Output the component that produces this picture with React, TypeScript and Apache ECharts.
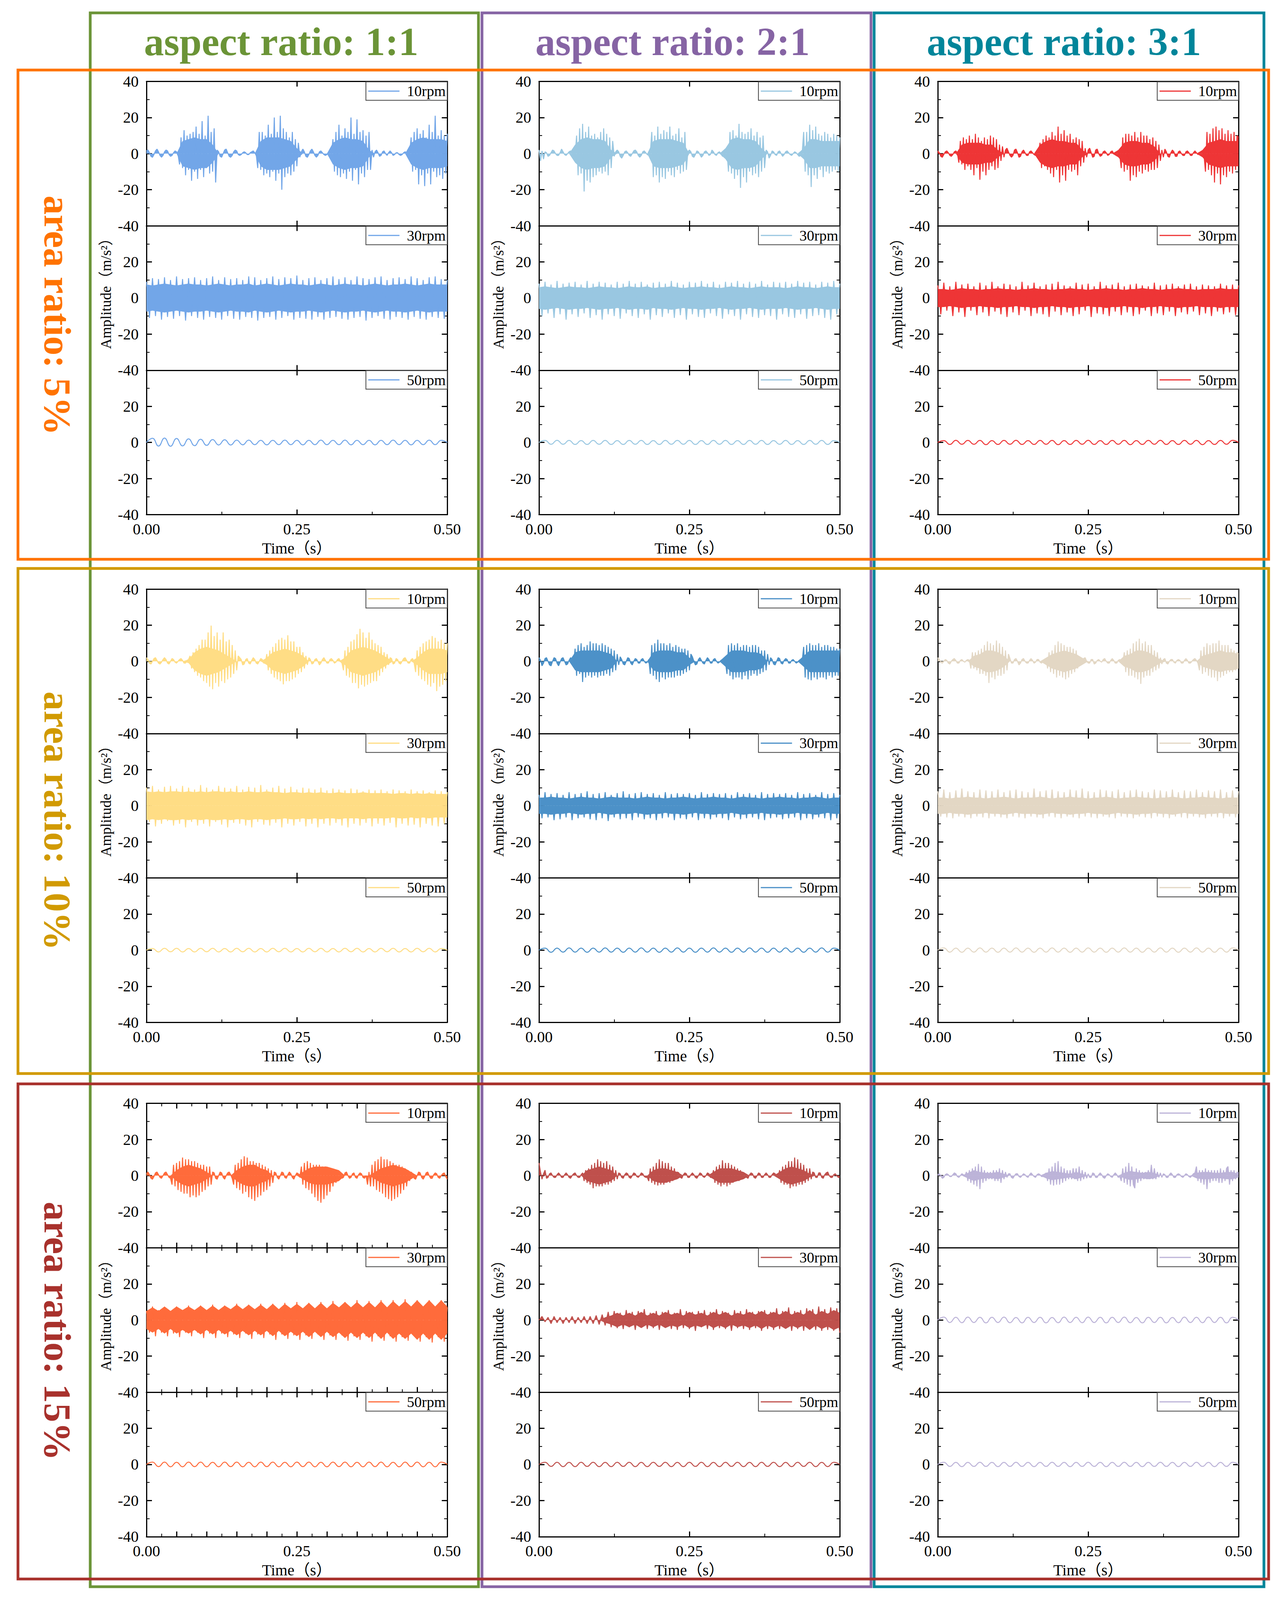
import React, { useEffect, useRef } from 'react';
import * as echarts from 'echarts';

// ---------- texts ----------
const COL_TITLES = ['aspect ratio: 1:1', 'aspect ratio: 2:1', 'aspect ratio: 3:1'];
const ROW_TITLES = ['area ratio: 5%', 'area ratio: 10%', 'area ratio: 15%'];
const RPM = ['10rpm', '30rpm', '50rpm'];
const Y_NAME = 'Amplitude（m/s²）';
const X_NAME = 'Time（s）';
const X_MIN = 0, X_MAX = 0.5, Y_MIN = -40, Y_MAX = 40, Y_STEP = 20;

// sampling steps of the arrays below (s)
const DT_10 = 0.0025; // 10rpm signal samples
const DT_30 = 0.005;  // 30rpm signal samples (alternating peaks)
const DT_C = 0.01;    // half-width of the dense core of a signal
const DT_W = 0.01;    // alternating peaks of smooth waves

// ---------- row 1 (area ratio 5%) ----------
const P11_10_S = [
  1.5, 2, 0.5, -1.5, -2, -0.5, 1.5, 2.5, 1, -1,
  -2, -1, 1, 2, 1.5, -0.5, -1.5, -1, 0.5, 1.5,
  1, -0.5, -6, 9, -8, 13, -12, 10, -9, 11,
  -15, 12, -10, 15, -14, 11, -9, 18, -13, 10,
  -8, 21, -11, 12, -10, 14, -16, 2, 1, -1.5,
  -2, 0, 2, 2.5, 0.5, -1.5, -2, -1, 1, 2,
  1.5, -0.5, -1, -0.5, 0.5, 1, 0.5, -0.5, -0.5, 0.5,
  1, 1.5, 0.5, -0.5, -8, 12, -9, 12, -12, 10,
  -11, 16, -13, 11, -10, 20, -15, 12, -11, 21,
  -20, 14, -13, 12, -11, 9, -12, 12, -10, 8,
  -7, 6, -2, 1, 2.5, 1, -1.5, -2, -0.5, 1.5,
  2.5, 1, -1, -2, -1, 1, 1.5, 0.5, -0.5, -1,
  -0.5, 0.5, 1, 0, 8, -10, 12, -12, 16, -13,
  10, -11, 14, -14, 12, -10, 20, -15, 11, -9,
  19, -17, 12, -11, 13, -13, 10, -9, 12, -9,
  2, -2, 1, 2, 0.5, -1.5, -1, 1, 1.5, 0,
  -1, 0.5, 1.5, 0.5, -1, -0.5, 0.5, 0.5, -0.5, -1,
  -0.5, 0.5, 1, 0.5, -0.5, 0, 9, -10, 12, -9,
  14, -17, 11, -12, 13, -18, 9, -11, 16, -17,
  12, -10, 21, -13, 10, -12, 13, -14, 10, -11,
  11];
const P11_10_C = [
  0, 0, 0, 0, 0, 0, 7, 8, 9, 8,
  8, 5, 0, 0, 0, 0, 0, 0, 0, 7,
  9, 9, 9, 8, 7, 3, 0, 0, 0, 0,
  0, 6, 8, 9, 8, 8, 7, 2, 0, 0,
  0, 0, 0, 0, 6, 8, 9, 8, 8, 8,
  7];
const P11_30_S = [
  9, -11, 11, -10, 10.5, -12, 11.5, -10.5, 10, -11.5,
  12, -10, 10.5, -12.5, 11, -10, 11.5, -11, 10, -12,
  11, -10.5, 12, -11, 10, -12, 11.5, -10, 10.5, -11.5,
  11, -12, 10, -10.5, 12, -11, 11.5, -12.5, 10, -11,
  11, -10.5, 12, -12, 10.5, -11, 11.5, -10, 11, -12,
  12.5, -11, 10, -11.5, 11, -12, 11.5, -10.5, 10, -12,
  11, -11, 12, -10.5, 10.5, -11.5, 11.5, -12, 10, -11,
  12, -10.5, 11, -12.5, 10.5, -11, 11.5, -10, 12, -11.5,
  10, -12, 11, -10.5, 11.5, -11, 10.5, -12, 12, -10.5,
  11, -11.5, 10, -12, 11.5, -10.5, 12, -11, 10.5, -11.5,
  10];
const P11_30_C = [
  7.5, 7, 7.5, 8, 7.5, 7, 7.5, 8, 7.5, 7.5,
  7, 7.5, 8, 7.5, 7, 7.5, 7.5, 8, 7, 7.5,
  8, 7.5, 7, 7.5, 8, 7.5, 7.5, 7, 7.5, 8,
  7.5, 7, 7.5, 8, 7.5, 7.5, 7, 7.5, 8, 7.5,
  7, 7.5, 7.5, 8, 7.5, 7, 7.5, 8, 7.5, 7.5,
  7.5];
const P11_50_W = [
  0, 2.3, -2, 2.4, -2.1, 2.2, -1.9, 2, -1.8, 1.8,
  -1.6, 1.6, -1.4, 1.5, -1.4, 1.3, -1.3, 1.3, -1.2, 1.2,
  -1.3, 1.2, -1.2, 1.3, -1.2, 1.2, -1.3, 1.2, -1.2, 1.3,
  -1.2, 1.2, -1.2, 1.3, -1.3, 1.2, -1.2, 1.2, -1.3, 1.2,
  -1.2, 1.3, -1.2, 1.2, -1.3, 1.2, -1.2, 1.3, -1.2, 1.2,
  0];

const P12_10_S = [
  2, -4, 1.5, -3, 1, 0.5, -1.5, -1, 0.5, 2,
  1.5, 0, -1, -1, 0.5, 2.5, 1, -0.5, -1, 0,
  1, 1.5, 0.5, -0.5, -1, 10, -12, 14, -11, 16.5,
  -21, 12, -15, 15, -16, 10, -13, 11, -12, 9,
  -10, 12, -11, 14, -10, 11, -12, 9, -8, 7,
  -1.5, 1, 2, 1, -1.5, -2.5, -1, 1, 1.5, 0.5,
  -1, -1.5, 0, 1.5, 2, 1, -1, -2, -1, 1,
  1.5, 0.5, -0.5, -1, 0.5, 12, -13, 10, -12, 15,
  -16, 11, -13, 13, -14, 12, -10, 15, -12, 10,
  -13, 11, -9, 14, -11, 9, -10, 12, -9, 1,
  2, 1, -1.5, -2, -0.5, 1.5, 1, -0.5, -2, -1,
  1, 1.5, 0.5, -1, -0.5, 2, 1, -0.5, -1, 0.5,
  1, 0, -1.5, -1, 0.5, 1, -10, 12, -11, 13,
  -14, 10, -12, 16.5, -19, 12, -13, 11, -16, 12,
  -10, 14, -12, 10, -11, 12, -13, 9, -10, 10,
  -8, 2, 1, -2.5, -1, 1.5, 1, -0.5, -1, 1,
  1.5, 0, -1.5, -0.5, 1, 1.5, 0.5, -0.5, -1, 0,
  1, 0.5, -0.5, -1.5, -1, 0.5, 12, -10, 12, -12,
  16, -18.5, 13, -12, 15, -14, 11, -9, 10, -13,
  12, -10, 11, -11, 9, -10, 11, -9, 10, -10,
  9];
const P12_10_C = [
  0, 0, 0, 0, 0, 0, 5, 8, 9, 8,
  8, 7, 2, 0, 0, 0, 0, 0, 0, 7,
  8, 8, 8, 7, 6, 0, 0, 0, 0, 0,
  0, 3, 8, 9, 8, 8, 7, 3, 0, 0,
  0, 0, 0, 0, 3, 8, 8, 7, 7, 7,
  7];
const P12_30_S = [
  8, -10, 9, -8.5, 7.5, -11, 9.5, -9, 8, -12,
  8.5, -9, 9, -10.5, 7.5, -8.5, 9.5, -11, 8, -9.5,
  9, -12, 8.5, -9, 7.5, -10, 9, -11.5, 8, -8.5,
  9.5, -10, 8, -11, 9, -9, 7.5, -12, 8.5, -9.5,
  9, -10.5, 8, -8.5, 9.5, -11, 8.5, -9.5, 7.5, -12,
  9, -9, 8.5, -10.5, 9.5, -11, 8, -8.5, 9, -10,
  7.5, -11.5, 9, -9, 8.5, -10, 9.5, -12, 8, -9,
  9, -10.5, 8, -11, 9.5, -9.5, 7.5, -10, 9, -12,
  8.5, -9, 9, -10.5, 8, -11, 9.5, -9, 8.5, -11.5,
  9, -10, 7.5, -9.5, 9, -11, 8.5, -12, 9.5, -9,
  8];
const P12_30_C = [
  6, 6.5, 6, 5.5, 6, 6.5, 6, 6, 5.5, 6,
  6.5, 6, 6, 5.5, 6, 6.5, 6, 6, 6.5, 5.5,
  6, 6, 6.5, 6, 5.5, 6, 6, 6.5, 6, 6,
  5.5, 6, 6.5, 6, 6, 5.5, 6, 6.5, 6, 6,
  6, 5.5, 6, 6.5, 6, 6, 5.5, 6, 6.5, 6,
  6];
const P12_50_W = [
  0, 1.1, -1, 1.2, -1, 1.1, -1.1, 1, -1.1, 1.1,
  -1, 1.1, -1.1, 1, -1.1, 1.1, -1, 1.1, -1.1, 1,
  -1.1, 1.1, -1, 1.1, -1, 1.1, -1.1, 1, -1.1, 1.1,
  -1, 1.1, -1.1, 1, -1.1, 1.1, -1, 1.1, -1.1, 1,
  -1, 1.1, -1.1, 1, -1.1, 1.1, -1, 1.1, -1.1, 1,
  0];

const P13_10_S = [
  1.5, 0.5, -1.5, -2, -0.5, 1, 1.5, 0.5, -1, -1.5,
  -0.5, 1, 1.5, 0.5, -5, 7, -6, 9, -9, 8,
  -7, 10, -9, 8, -12, 11, -8, 9, -14.5, 7,
  -10, 9, -12, 8, -9, 10, -7, 9, -9, 8,
  -8, 5, -4, 4, -2, 2, 3, 1, -1, -2,
  -1, 2, 2.5, 0.5, -2, -1.5, 1, 2, 0.5, -1,
  -1, 1, 1.5, 0.5, -0.5, -1, 0.5, 1, 6, -8,
  8, -7, 10, -9, 9, -11, 12, -13, 10, -9,
  15, -16, 11, -12, 13, -15, 10, -9, 11, -10,
  8, -9, 9, -12, 8, -7, 7, -5, 3, -2,
  2, 3, 0.5, -2, -1.5, 2, 2.5, 0, -1.5, -1,
  1, 1.5, 0.5, -1, -0.5, 1, 1.5, 0, -0.5, 1,
  0.5, -1, -8, 9, -10, 11, -9, 11, -15, 10,
  -12, 12, -13, 9, -10, 12, -11, 10, -9, 10,
  -10, 8, -9, 9, -9, 7, -8, 5, -4, 2,
  -2, 2.5, 1, -1.5, -2, 0.5, 2, 1, -1.5, -1.5,
  1, 1.5, 0, -1, -1, 1, 1.5, 0.5, -1, -1,
  0.5, 1.5, 0.5, -0.5, 0, 1, 0.5, -0.5, -10, 12,
  -9, 11, -12, 14, -16, 15, -11, 13, -17, 14,
  -12, 11, -13, 13, -10, 11, -11, 12, -9, 10,
  9];
const P13_10_C = [
  0, 0, 0, 0, 5, 6, 6, 6, 5, 5,
  2, 0, 0, 0, 0, 0, 0, 5, 7, 8,
  7, 7, 6, 6, 2, 0, 0, 0, 0, 0,
  2, 6, 7, 7, 6, 6, 4, 0, 0, 0,
  0, 0, 0, 0, 2, 6, 7, 8, 7, 7,
  7];
const P13_30_S = [
  7, -9, 8.5, -7, 6.5, -10, 9, -8, 7.5, -10.5,
  8, -7, 6.5, -9.5, 8.5, -8, 7, -10, 9, -7.5,
  6.5, -9, 8, -10.5, 7.5, -8, 6.5, -9.5, 9, -7,
  7, -10, 8.5, -8.5, 6.5, -9, 7.5, -10.5, 8, -7.5,
  9, -9.5, 7, -8, 6.5, -10, 8.5, -9, 7.5, -7,
  8, -10.5, 6.5, -8.5, 9, -9, 7, -10, 7.5, -7.5,
  8.5, -9.5, 6.5, -8, 7.5, -10, 8, -9, 7, -7,
  6.5, -10, 8.5, -8.5, 7, -9.5, 7.5, -7.5, 8, -10,
  6.5, -8, 7.5, -9, 8, -7.5, 6.5, -9.5, 7.5, -8.5,
  7, -10, 6.5, -7.5, 8, -9, 7, -8, 7.5, -9.5,
  7];
const P13_30_C = [
  5, 5, 4.5, 5, 5.5, 5, 5, 4.5, 5, 5,
  5.5, 5, 5, 4.5, 5, 5, 5.5, 5, 5, 4.5,
  5, 5, 5.5, 5, 5, 4.5, 5, 5, 5.5, 5,
  5, 4.5, 5, 5, 5.5, 5, 5, 4.5, 5, 5,
  5.5, 5, 5, 4.5, 5, 5, 5, 5.5, 5, 5,
  5];
const P13_50_W = [
  0, 1, -1.1, 1.2, -1, 1.1, -1, 1.1, -1.2, 1,
  -1.1, 1.1, -1, 1.2, -1.1, 1, -1.1, 1.1, -1, 1.1,
  -1.2, 1, -1.1, 1.1, -1, 1.2, -1.1, 1, -1.1, 1.1,
  -1, 1.1, -1.2, 1, -1.1, 1.1, -1, 1.2, -1.1, 1,
  -1.1, 1.1, -1, 1.1, -1.2, 1, -1.1, 1.1, -1, 1.2,
  0];

// ---------- row 2 (area ratio 10%) ----------
const P21_10_S = [
  2, 1, -1, -1.5, 0, 1.5, 2, 0.5, -1, -1.5,
  -0.5, 1, 2, 1, -1, -1.5, 0, 1.5, 1, -0.5,
  -1, 0, 1, 1.5, 0.5, -1, -1, 0.5, 1, 3,
  -4, 5, -6, 7, -8, 9, -9, 12, -11, 12,
  -12, 16, -14, 19.8, -15.5, 14, -12, 16, -14, 12,
  -11, 16, -12, 11, -10, 12, -9, 9, -7, 6,
  -5, 3, 2, 1, -2, -1.5, 1, 1.5, -1, -1.5,
  0.5, 2, 1, -1, -1.5, 0, 1.5, 1, -1, -1,
  4, -5, 6, -7, 8, -9, 10, -10, 12, -11,
  13, -12.8, 12, -11, 14.4, -11, 11, -10, 11, -9,
  8, -7, 8, -6, 5, -4, 3, -2, 2, 1,
  -1.5, -1, 1, 1.5, 0, -2, -1, 1, 2, 0.5,
  -1, -1, 1, 1.5, 0.5, -1, -0.5, 1, 1.5, 0,
  -1, -5, 6, -8, 8, -9, 11, -12, 12, -12,
  15, -15, 18, -13, 16, -14, 13, -13, 16, -12,
  12, -11, 10, -11, 9, -8, 8, -6, 5, -4,
  4, -2, 2, 1.5, -1.5, -1, 1.5, 1, -1, -1.5,
  0, 1.5, 2, 0.5, -1, -1, 1, 1.5, -1, -6,
  6, -8, 8, -10, 10, -11, 11, -13, 12, -14,
  14, -12, 13, -16.5, 11, -14, 12, -13, 10, -11,
  10];
const P21_10_C = [
  0, 0, 0, 0, 0, 0, 0, 1, 5, 7,
  8, 7, 6, 4, 2, 0, 0, 0, 0, 0,
  2, 5, 6, 7, 6, 5, 3, 0, 0, 0,
  0, 0, 0, 2, 6, 7, 8, 7, 6, 4,
  2, 0, 0, 0, 0, 2, 5, 7, 7, 7,
  6];
const P21_30_S = [
  10, -9, 11, -11.5, 9, -10, 10.5, -8.5, 11, -11,
  9.5, -10, 11, -12, 10, -9, 9, -11, 11.5, -10,
  10, -11.5, 9, -9, 11, -10.5, 10, -12, 9.5, -9.5,
  11, -10, 9, -11, 10.5, -12, 10, -9, 11.5, -10.5,
  9, -11, 10, -9.5, 11, -12, 9.5, -10, 10.5, -11,
  9, -9, 10, -11.5, 9.5, -10, 9, -12, 10, -10,
  8.5, -11, 9.5, -9.5, 9, -11, 8.5, -12, 9.5, -10,
  9, -11, 8, -9.5, 9, -11.5, 8.5, -10, 9, -11,
  8, -9.5, 9, -12, 8.5, -10, 8, -11, 9, -10.5,
  8, -12, 8.5, -10, 7.5, -11, 8.5, -11.5, 8, -10,
  7.5];
const P21_30_C = [
  8, 7.5, 8, 7.5, 8, 8, 7.5, 8, 7.5, 8,
  7.5, 8, 8, 7.5, 8, 7.5, 7.5, 8, 7.5, 7.5,
  8, 7.5, 7.5, 7, 7.5, 7.5, 7, 7.5, 7, 7.5,
  7, 7, 7.5, 7, 7, 7, 7.5, 7, 7, 7,
  7, 6.5, 7, 7, 6.5, 7, 6.5, 7, 6.5, 6.5,
  6.5];
const P21_50_W = [
  0, 0.9, -1, 1, -0.9, 1, -1, 0.9, -1, 1,
  -0.9, 1, -1, 0.9, -1, 1, -0.9, 1, -1, 0.9,
  -1, 1, -0.9, 1, -1, 0.9, -1, 1, -0.9, 1,
  -1, 0.9, -1, 1, -0.9, 1, -1, 0.9, -1, 1,
  -0.9, 1, -1, 0.9, -1, 1, -0.9, 1, -1, 0.9,
  0];

const P22_10_S = [
  2, 0.5, -2.5, -1, 1.5, 2, 0, -2, -2.5, 0,
  2, 1.5, -1, -2.5, -0.5, 1.5, 2, 0, -2, -1.5,
  0.5, 2, 1, -1, 7, -8, 9, -7, 10, -11.5,
  8, -9, 9, -8, 11, -9, 10, -8, 10, -9,
  9, -8, 10, -8, 9, -7, 8, -8, 7, -6,
  6, -5, 4, -2, 2.5, 1, -1.5, -2, 0, 2,
  1.5, -1, -2, 0, 1.5, 1, -1, -1, 1, 1.5,
  0, -1, -0.5, 1, -7, 9, -8, 10, -10, 12,
  -11.5, 10, -9, 10, -10, 9, -9, 10, -9, 8,
  -9, 9, -8, 8, -8, 7, -7, 7, -6, 6,
  -5, 4, 2.5, 0, -2, -1.5, 1, 2, 0.5, -1,
  -1.5, 0.5, 2, 1, -1, -1, 1, 1.5, 0, -1,
  -0.5, 0.5, 1, 0, -0.5, -7, 9, -8, 10, -10,
  9, -9, 10, -9, 8, -10, 9, -8, 9, -10,
  8, -8, 9, -7, 9, -8, 8, -7, 6, -6,
  6, -5, 4, -2, 2, 1, -1.5, -2, 0, 2,
  1.5, -1, -1.5, 0.5, 1.5, 1, -1, -1, 0.5, 1,
  0, -1, -0.5, 0.5, 1, 0, 8, -9, 9, -10,
  10, -10.5, 9, -9, 9, -10, 10, -9, 8, -9,
  9, -10, 9, -8, 8, -9, 8, -8, 7, -8,
  7];
const P22_10_C = [
  0, 0, 0, 0, 0, 0, 5, 6, 6, 6,
  6, 5, 4, 0, 0, 0, 0, 0, 0, 5,
  6, 6, 6, 5, 5, 2, 0, 0, 0, 0,
  0, 3, 6, 6, 6, 5, 5, 4, 0, 0,
  0, 0, 0, 0, 3, 6, 6, 6, 6, 6,
  6];
const P22_30_S = [
  6, -7, 7.5, -6.5, 6.5, -8, 7, -7.5, 6, -6.5,
  7.5, -8, 6.5, -7, 7, -6.5, 8, -7.5, 6.5, -8,
  7, -7, 7.5, -8.5, 6, -6.5, 7, -7.5, 8, -7,
  6.5, -8, 7, -6.5, 7.5, -7.5, 6.5, -7, 7, -8,
  6, -7, 7.5, -6.5, 6.5, -8, 7, -7, 6.5, -7.5,
  7, -6.5, 6, -8, 7.5, -7, 6.5, -7.5, 7, -6.5,
  6.5, -7, 7, -8, 6, -6.5, 7.5, -7.5, 6.5, -7,
  7, -6.5, 6, -7.5, 7.5, -8, 6.5, -7, 7, -6.5,
  6.5, -7.5, 7, -7, 6, -6.5, 7.5, -8, 6.5, -7,
  7, -7.5, 6, -6.5, 7.5, -7, 6.5, -8, 7, -7,
  6];
const P22_30_C = [
  4.5, 4.5, 5, 4.5, 4.5, 4, 4.5, 5, 4.5, 4.5,
  4, 4.5, 5, 4.5, 4.5, 4.5, 4, 4.5, 5, 4.5,
  4.5, 4, 4.5, 4.5, 5, 4.5, 4, 4.5, 4.5, 5,
  4.5, 4.5, 4, 4.5, 5, 4.5, 4.5, 4, 4.5, 4.5,
  5, 4.5, 4.5, 4, 4.5, 4.5, 5, 4.5, 4, 4.5,
  4.5];
const P22_50_W = [
  0, 1.1, -1.2, 1.1, -1.1, 1.2, -1.1, 1.1, -1.2, 1.1,
  -1.1, 1.2, -1.1, 1.1, -1.2, 1.1, -1.1, 1.2, -1.1, 1.1,
  -1.2, 1.1, -1.1, 1.2, -1.1, 1.1, -1.2, 1.1, -1.1, 1.2,
  -1.1, 1.1, -1.2, 1.1, -1.1, 1.2, -1.1, 1.1, -1.2, 1.1,
  -1.1, 1.2, -1.1, 1.1, -1.2, 1.1, -1.1, 1.2, -1.1, 1.1,
  0];

const P23_10_S = [
  2, 1, -0.5, -1, 0, 1, 0.5, -1, -1.5, 0,
  1, 1.5, 0.5, -1, -1, 0.5, 1, 0, -0.5, 0.5,
  1, 0.5, -4, 5, -4, 5, -5, 6, -7, 7,
  -7, 9, -8, 11, -12, 10, -9, 9, -10, 11.5,
  -8, 10, -8, 8, -7, 6, -5, 4, 1.5, -1,
  -1, 1, 1.5, 0, -2, -1, 1, 1.5, 0, -1,
  -1, 0.5, 1.5, 0.5, -1, -0.5, 1, 1, -0.5, -1,
  0, 1, 1.5, -4, 5, -6, 6, -7, 9, -9,
  11, -8, 10, -9, 9, -10, 8, -9, 8, -7,
  7, -6, 6, -4, 1.5, -1.5, -1, 1.5, 2, 0,
  -1, -1, 1, 1, -1.5, -1, 0.5, 1, 0, -0.5,
  1, 1.5, 0, -1, -1, 0.5, 1.5, 0.5, -1, -1,
  0.5, 1, 0, -1.5, 5, -6, 6, -8, 7, -8,
  10, -9, 11, -10, 12.5, -12.5, 10, -9, 11, -8,
  9, -8, 9, -6, 6, -5, 5, -4, 2, -1.5,
  1, 1.5, -1, -1.5, 0, 1, 1, -0.5, -1, 0.5,
  1, 0.5, -1, -1, 0.5, 1.5, 0.5, -1, -1, 0,
  1, 1.5, 0.5, -1, -5, 6, -7, 8, -6, 10,
  -8, 9, -9, 10, -9, 10, -11, 11.5, -9, 9,
  -8, 9, -7, 9, -6, 7, -6, 6, -5, 5,
  4];
const P23_10_C = [
  0, 0, 0, 0, 0, 0, 3, 4, 6, 6,
  5, 3, 0, 0, 0, 0, 0, 0, 2, 4,
  5, 6, 5, 4, 2, 0, 0, 0, 0, 0,
  0, 3, 4, 6, 6, 5, 3, 1, 0, 0,
  0, 0, 0, 0, 3, 4, 5, 6, 5, 5,
  4];
const P23_30_S = [
  8, -6, 9, -6.5, 7.5, -7, 8.5, -6, 9.5, -6.5,
  8, -7, 7.5, -6, 9, -6.5, 8.5, -7, 8, -6,
  9, -6.5, 7.5, -7, 8.5, -6, 9, -6.5, 8, -7,
  7.5, -6, 9.5, -6.5, 8, -7, 8.5, -6, 9, -6.5,
  8, -7, 7.5, -6, 9, -6.5, 8.5, -7, 9.5, -6,
  8, -6.5, 7.5, -7, 9, -6, 8.5, -6.5, 8, -7,
  9, -6, 7.5, -6.5, 8.5, -7, 9, -6, 8, -6.5,
  7.5, -7, 9, -6, 8.5, -6.5, 8, -7, 9, -6,
  7.5, -6.5, 8.5, -7, 8, -6, 9, -6.5, 7.5, -7,
  8.5, -6, 8, -6.5, 9, -7, 7.5, -6, 8.5, -6.5,
  8];
const P23_30_C = [
  4.5, 4.5, 4, 4.5, 4.5, 5, 4.5, 4.5, 4, 4.5,
  4.5, 5, 4.5, 4, 4.5, 4.5, 4.5, 5, 4.5, 4,
  4.5, 4.5, 5, 4.5, 4.5, 4, 4.5, 4.5, 5, 4.5,
  4, 4.5, 4.5, 5, 4.5, 4.5, 4, 4.5, 4.5, 5,
  4.5, 4, 4.5, 4.5, 5, 4.5, 4.5, 4, 4.5, 4.5,
  4.5];
const P23_50_W = [
  0, 1.2, -1.1, 1.1, -1.2, 1.1, -1.1, 1.2, -1.1, 1.1,
  -1.2, 1.1, -1.1, 1.2, -1.1, 1.1, -1.2, 1.1, -1.1, 1.2,
  -1.1, 1.1, -1.2, 1.1, -1.1, 1.2, -1.1, 1.1, -1.2, 1.1,
  -1.1, 1.2, -1.1, 1.1, -1.2, 1.1, -1.1, 1.2, -1.1, 1.1,
  -1.2, 1.1, -1.1, 1.2, -1.1, 1.1, -1.2, 1.1, -1.1, 1.2,
  0];

// ---------- row 3 (area ratio 15%) ----------
const P31_10_S = [
  1, 2, 0.5, -1.5, -2, -0.5, 1.5, 2, 0.5, -1,
  -1.5, 0, 1.5, 2, 0.5, -1, -1.5, -5, 6, -6,
  7, -8, 8, -9, 10, -10, 9, -10, 9, -12,
  8, -11, 8, -12, 7, -11, 6, -9, 6, -8,
  5, -6, 5, -5, 2, 1.5, -1.5, -2, 0, 2,
  1.5, -1, -2, 0, 1.5, 2, 0.5, -1.5, -5, 6,
  -7, 7, -8, 9, -10, 10.7, -9, 10, -12, 8,
  -13, 8, -14, 7, -12, 7, -11, 6, -9, 5,
  -8, 4, -6, 3, -4, 2, 1.5, -1, -2, 0,
  2, 1.5, -1, -1.5, 0.5, 2, 1, -1, -2, 0,
  1.5, 1, -1, 5, -5, 7, -7, 8, -8, 7,
  -10, 6, -12, 6, -14, 6, -15, 5, -13, 5,
  -11, 4, -9, 3, -6, 2, -4, 1.5, 2, 0,
  -1.5, -1, 1.5, 2, 0, -1.5, -1, 1, 1.5, -1,
  -1.5, 0.5, 1.5, 1, -1, -1.5, 0, -5, 2, -6,
  6, -6, 8, -8, 9, -9, 10.5, -10, 9, -12,
  9, -13, 8, -14, 7, -13, 6, -12, 6, -10,
  5, -8, 4, -6, 3, -3, 2, 1, -1.5, -2,
  0, 2, 1.5, -1, -2, -0.5, 1.5, 2, 0, -1.5,
  -1.5, 0.5, 1.5, 1, -1, -1.5, 0, 1, 1.5, -0.5,
  -2];
const P31_10_C = [
  0, 0, 0, 0, 0, 3, 5, 6, 5, 4,
  2, 0, 0, 0, 0, 3, 5, 6, 6, 4,
  3, 0, 0, 0, 0, 0, 2, 4, 5, 5,
  5, 4, 3, 0, 0, 0, 0, 0, 2, 4,
  5, 6, 5, 4, 2, 0, 0, 0, 0, 0,
  0];
const P31_30_S = [
  5, -7, 7.5, -9, 5.5, -7, 7, -9, 5, -7.5,
  7.5, -9.5, 5, -7, 8, -9, 5.5, -7, 8, -10,
  5, -7.5, 8.5, -10, 5.5, -7.5, 8, -9.5, 5, -8,
  9, -10, 5.5, -7.5, 8.5, -10.5, 5.5, -8, 9, -10,
  6, -8, 9, -11, 6, -8, 9.5, -10.5, 6, -8.5,
  10, -11, 6, -8.5, 9.5, -10.5, 6.5, -8, 10, -11,
  6.5, -8.5, 10.5, -11, 6.5, -8.5, 10, -11.5, 7, -9,
  11, -11, 7, -9, 10.5, -12, 7, -9, 11, -11.5,
  7, -9, 11, -12, 7, -9.5, 11.5, -11.5, 7, -9,
  11, -12, 7.5, -9.5, 11, -12.5, 7, -9.5, 11, -12,
  7];
const P31_30_C = [
  5, 7, 5, 7.5, 5, 7.5, 5.5, 7.5, 5.5, 8,
  5.5, 8, 5.5, 8, 6, 8.5, 6, 8.5, 6, 8.5,
  6, 9, 6, 9, 6.5, 9, 6.5, 9.5, 6.5, 9.5,
  6.5, 9.5, 7, 10, 7, 10, 7, 10, 7, 10.5,
  7, 10.5, 7.5, 10.5, 7.5, 11, 7.5, 11, 7.5, 11,
  7.5];
const P31_50_W = [
  0, 1.3, -1.2, 1.3, -1.3, 1.2, -1.3, 1.3, -1.2, 1.3,
  -1.3, 1.2, -1.3, 1.3, -1.2, 1.3, -1.3, 1.2, -1.3, 1.3,
  -1.2, 1.3, -1.3, 1.2, -1.3, 1.3, -1.2, 1.3, -1.3, 1.2,
  -1.3, 1.3, -1.2, 1.3, -1.3, 1.2, -1.3, 1.3, -1.2, 1.3,
  -1.3, 1.2, -1.3, 1.3, -1.2, 1.3, -1.3, 1.2, -1.3, 1.3,
  0];

const P32_10_S = [
  7, 2, -2, 1, 3, -1.5, -1, 1, 1.5, 0,
  -1, -1, 0.5, 1.5, 0.5, -1, -1, 0.5, 1.5, 0.5,
  -1, -1.5, 0, 1, 1.5, 0, -1, -1, 0.5, 1.5,
  -3, 3, -4, 4, -5, 6, -7, 7, -6, 9,
  -6, 8, -6, 7, -5, 8, -5, 6, -4, 5,
  -3, 3, -2, 1.5, 1, -1, -1.5, 0.5, 1.5, 1,
  -1, -1.5, 0, 1.5, 1, -0.5, -1, 0, 1.5, 1,
  -0.5, -1, -1, -3, 4, -4, 5, -5, 7, -5.5,
  9, -5, 8, -5, 7, -4, 7, -4, 5, -3,
  4, -2, 2, 1.5, -1, -1.5, 0.5, 1.5, 1, -1,
  -1, 0.5, 1.5, 0.5, -1, -1.5, 0, 1.5, 1, -0.5,
  -1, 0, 1.5, 1, -1, -1, 3, -4, 5, -5,
  6, -6, 8.5, -5, 7, -6, 7, -5, 6, -4,
  5, -3, 4, -3, 3, -2, 1.5, 1, -1, -1.5,
  0.5, 1.5, 1, -1, -1.5, 0, 1.5, 1, -1, -1,
  0.5, 1.5, 0.5, -1, -1, 0.5, 1.5, 1, -0.5, -1,
  3, -4, 5, -5, 6, -5, 8, -7, 8, -6,
  10, -6, 9, -5, 7, -5, 6, -4, 4, -3,
  4, -2, 2, 1.5, -1, -1, 1.5, 1.5, -1, -1.5,
  0.5, 1.5, 2, 0, -1, -1, 0.5, 1, 0, -1,
  -1];
const P32_10_C = [
  0, 0, 0, 0, 0, 0, 0, 0, 3, 4,
  5, 4, 3, 0, 0, 0, 0, 0, 0, 3,
  4, 4, 3, 2, 0, 0, 0, 0, 0, 2,
  4, 4, 4, 3, 2, 0, 0, 0, 0, 0,
  2, 4, 5, 4, 3, 1, 0, 0, 0, 0,
  0];
const P32_30_S = [
  0, 2, -1, 1.5, -2, 2, -1.5, 1.5, -2, 1.5,
  -1.5, 2, -2, 1.5, -1.5, 2, -2, 2, -2, 2.5,
  -2.5, 3, -3, 4.5, -4, 5, -4.5, 4, -5, 5.5,
  -4, 4.5, -5.5, 5, -4, 6, -5, 4, -4.5, 5,
  -5.5, 4.5, -4, 5.5, -5, 4, -5.5, 6, -4.5, 5,
  -5, 4.5, -6, 5, -4, 5.5, -5, 4.5, -5.5, 6,
  -4.5, 5, -5, 4, -6, 5.5, -4.5, 5, -5, 6,
  -5.5, 4.5, -4.5, 5, -6, 5.5, -5, 4.5, -5.5, 6.5,
  -5, 5, -4.5, 7, -6, 5, -5, 5.5, -6, 6.5,
  -5, 6, -5.5, 7.5, -6, 6, -5.5, 7, -6, 6.5,
  -7];
const P32_30_C = [
  0, 0, 0, 0, 0, 0, 0, 0, 0, 0,
  0, 1.5, 2.5, 4, 2.5, 4, 2.5, 4.5, 2.5, 4,
  2.5, 4.5, 3, 4, 2.5, 4.5, 3, 4, 2.5, 4.5,
  3, 4.5, 2.5, 4, 3, 4.5, 3, 5, 3, 4.5,
  3, 5, 3, 4.5, 3, 5.5, 3, 5, 3.5, 5.5,
  4];
const P32_50_W = [
  0, 1.2, -1.1, 1.2, -1.2, 1.1, -1.2, 1.2, -1.1, 1.2,
  -1.2, 1.1, -1.2, 1.2, -1.1, 1.2, -1.2, 1.1, -1.2, 1.2,
  -1.1, 1.2, -1.2, 1.1, -1.2, 1.2, -1.1, 1.2, -1.2, 1.1,
  -1.2, 1.2, -1.1, 1.2, -1.2, 1.1, -1.2, 1.2, -1.1, 1.2,
  -1.2, 1.1, -1.2, 1.2, -1.1, 1.2, -1.2, 1.1, -1.2, 1.2,
  0];

const P33_10_S = [
  0.5, 1, 0, -1.5, -1, 0.5, 1, 0.5, -0.5, -0.5,
  0.5, 1.5, 1, -0.5, -1, 0, 1, 0.5, -0.5, 2,
  -3, 3, -4, 4, -5, 5, -6, 6.5, -7.5, 5,
  -4, 3, -3, 2, -2, 2, -2, 3, -3, 3,
  -3, 4, -4, 3, -2, 2, -1, 1, 1, -1,
  -1.5, 0, 1, 1, -0.5, -1, 0, 1, 0.5, -0.5,
  -1, 0.5, 1.5, 0.5, -0.5, -1, 0.5, 1, 0.5, -0.5,
  -0.5, 0.5, 1.5, -3, 4, -5, 5, -5.5, 7, -5,
  8, -5, 5, -4, 4, -3, 3, -2, 3, -2,
  4, -2, 4, -3, 5, -3, 3, -2, 2, -1.5,
  1, -1, -1, 1.5, 1, -1, -1, 0.5, 1.5, 0.5,
  -1, -1.5, 0, 1, 0.5, -0.5, -1, 0.5, 1.5, 0.5,
  -1, -0.5, -3, 4, -4, 5, -5, 7, -6, 5,
  -5, -7, 4, -4, 3, -3, 2, -2, 2, -2,
  3, -2, 6, -2, 4, -2, 2, -1, 1.5, -1,
  1, 0.5, -1, -1, 0.5, 1.5, 0.5, -1, -1, 0.5,
  1, 0.5, -0.5, -1, 0, 1, 0.5, -0.5, -1, 0,
  1, 1.5, 5, -3, 3, -4, 3, -5, 4, -7.5,
  3, -4, 3, -3, 3, -3, 3, -4, 4, -4,
  3, -3, 4, 5, -5, 3, -3, 3, -2, 2,
  1.5];
const P33_10_C = [
  0, 0, 0, 0, 0, 1.5, 3, 2, 1.5, 1.5,
  2, 1, 0, 0, 0, 0, 0, 0, 1.5, 2.5,
  2, 1.5, 1, 2, 1, 0, 0, 0, 0, 0,
  0, 1.5, 2.5, 2, 1.5, 2, 1.5, 0, 0, 0,
  0, 0, 0, 1.5, 2, 2, 1.5, 1.5, 2, 2,
  1];
const P33_30_W = [
  0, 1.6, -1.4, 1.5, -1.5, 1.6, -1.4, 1.5, -1.6, 1.5,
  -1.4, 1.6, -1.5, 1.4, -1.6, 1.5, -1.4, 1.5, -1.6, 1.4,
  -1.5, 1.6, -1.4, 1.5, -1.5, 1.6, -1.4, 1.5, -1.6, 1.5,
  -1.4, 1.6, -1.5, 1.4, -1.6, 1.5, -1.4, 1.5, -1.6, 1.4,
  -1.5, 1.6, -1.4, 1.5, -1.5, 1.6, -1.4, 1.5, -1.6, 1.5,
  0];
const P33_50_W = [
  0, 1.2, -1.1, 1.1, -1.2, 1.1, -1.1, 1.2, -1.1, 1.1,
  -1.2, 1.1, -1.1, 1.2, -1.1, 1.1, -1.2, 1.1, -1.1, 1.2,
  -1.1, 1.1, -1.2, 1.1, -1.1, 1.2, -1.1, 1.1, -1.2, 1.1,
  -1.1, 1.2, -1.1, 1.1, -1.2, 1.1, -1.1, 1.2, -1.1, 1.1,
  -1.2, 1.1, -1.1, 1.2, -1.1, 1.1, -1.2, 1.1, -1.1, 1.2,
  0];

// ---------- styling / layout (in reference pixels, 3272 x 4343) ----------
const SERIF = "'Liberation Serif', 'Times New Roman', 'Noto Sans CJK SC', serif";
const REF_W = 3272, REF_H = 4343;
const COL_LEFT = [375, 1380, 2401];
const PLOT_W = 770;
const ROW_TOP = [221, 1599, 2995];
const SUB_H = 392;
const COL_COLORS = ['#6B9437', '#8664A4', '#00859A'];
const ROW_COLORS = ['#FF7300', '#D19A00', '#A8312C'];
const COL_BOX = [[231, 994], [1234, 996], [2238, 998]];
const COL_BOX_Y = [35, 4307];
const ROW_BOX_X = [46, 3248];
const ROW_BOX = [[190, 1518], [1543, 2914], [2942, 4286]];
const TITLE_X = [720, 1722, 2724];
const ROW_LABEL_Y = [856, 2228, 3613];

type Sig = { s?: number[]; dt?: number; c?: number[]; w?: number[] };
type Panel = { color: string; dense?: boolean; sigs: Sig[] };

const PANELS: Panel[] = [
  { color: '#72A6E8', sigs: [{ s: P11_10_S, dt: DT_10, c: P11_10_C }, { s: P11_30_S, dt: DT_30, c: P11_30_C }, { w: P11_50_W }] },
  { color: '#99C7E1', sigs: [{ s: P12_10_S, dt: DT_10, c: P12_10_C }, { s: P12_30_S, dt: DT_30, c: P12_30_C }, { w: P12_50_W }] },
  { color: '#EE3536', sigs: [{ s: P13_10_S, dt: DT_10, c: P13_10_C }, { s: P13_30_S, dt: DT_30, c: P13_30_C }, { w: P13_50_W }] },
  { color: '#FFDD85', sigs: [{ s: P21_10_S, dt: DT_10, c: P21_10_C }, { s: P21_30_S, dt: DT_30, c: P21_30_C }, { w: P21_50_W }] },
  { color: '#4C91C8', sigs: [{ s: P22_10_S, dt: DT_10, c: P22_10_C }, { s: P22_30_S, dt: DT_30, c: P22_30_C }, { w: P22_50_W }] },
  { color: '#E3D7C4', sigs: [{ s: P23_10_S, dt: DT_10, c: P23_10_C }, { s: P23_30_S, dt: DT_30, c: P23_30_C }, { w: P23_50_W }] },
  { color: '#FF6B3B', dense: true, sigs: [{ s: P31_10_S, dt: DT_10, c: P31_10_C }, { s: P31_30_S, dt: DT_30, c: P31_30_C }, { w: P31_50_W }] },
  { color: '#BF504C', sigs: [{ s: P32_10_S, dt: DT_10, c: P32_10_C }, { s: P32_30_S, dt: DT_30, c: P32_30_C }, { w: P32_50_W }] },
  { color: '#BCB3D8', sigs: [{ s: P33_10_S, dt: DT_10, c: P33_10_C }, { w: P33_30_W }, { w: P33_50_W }] },
];

const toPairs = (arr: number[], dt: number, sign = 1) =>
  arr.map((v, i) => [Math.round(i * dt * 100000) / 100000, sign * v]);

function buildOption(vw: number, vh: number) {
  const sx = vw / REF_W, sy = vh / REF_H;
  const X = (v: number) => v * sx;
  const Y = (v: number) => v * sy;
  const FX = (v: number) => v * sx; // horizontal texts
  const FY = (v: number) => v * sy; // vertical texts

  const grid: any[] = [], xAxis: any[] = [], yAxis: any[] = [], series: any[] = [], legend: any[] = [];
  const graphic: any[] = [];

  PANELS.forEach((p, pi) => {
    const r = Math.floor(pi / 3), c = pi % 3;
    const left = COL_LEFT[c];
    p.sigs.forEach((sig, si) => {
      const gi = grid.length;
      const top = ROW_TOP[r] + si * SUB_H;
      const isBottom = si === 2;
      grid.push({ left: X(left), top: Y(top), width: X(PLOT_W), height: Y(SUB_H), show: false });
      const tickStyle = { color: '#000', width: 3 };
      const xBase = {
        type: 'value', gridIndex: gi, min: X_MIN, max: X_MAX, interval: p.dense ? 0.05 : 0.25,
        splitLine: { show: false },
        axisLine: { show: true, onZero: false, lineStyle: { color: '#000', width: 3 } },
        axisTick: { show: true, inside: true, length: Y(14), lineStyle: tickStyle },
      };
      xAxis.push({
        ...xBase, position: 'bottom',
        minorTick: { show: !!p.dense || isBottom, splitNumber: 2, length: Y(8), lineStyle: { color: '#000', width: 2 } },
        axisLabel: {
          show: isBottom, fontSize: FX(40), fontFamily: SERIF, color: '#000', margin: Y(18),
          formatter: (v: number) => (Math.abs(v / 0.25 - Math.round(v / 0.25)) < 1e-6 ? v.toFixed(2) : ''),
        },
        name: isBottom ? X_NAME : '', nameLocation: 'middle', nameGap: Y(70),
        nameTextStyle: { fontSize: FX(40), fontFamily: SERIF, color: '#000' },
      });
      xAxis.push({
        ...xBase, position: 'top',
        minorTick: { show: !!p.dense, splitNumber: 2, length: Y(8), lineStyle: { color: '#000', width: 2 } },
        axisLabel: { show: false },
      });
      const yBase = {
        type: 'value', gridIndex: gi, min: Y_MIN, max: Y_MAX, interval: Y_STEP,
        splitLine: { show: false },
        axisLine: { show: true, onZero: false, lineStyle: { color: '#000', width: 3 } },
        axisTick: { show: true, inside: true, length: X(14), lineStyle: tickStyle },
        minorTick: { show: true, splitNumber: 2, length: X(8), lineStyle: { color: '#000', width: 2 } },
      };
      yAxis.push({
        ...yBase, position: 'left',
        axisLabel: { show: true, fontSize: FX(40), fontFamily: SERIF, color: '#000', margin: X(20), showMaxLabel: si === 0, showMinLabel: true },
      });
      yAxis.push({ ...yBase, position: 'right', axisLabel: { show: false } });

      const name = `${RPM[si]}#${pi}`;
      const common = {
        xAxisIndex: gi * 2, yAxisIndex: gi * 2, symbol: 'none', showSymbol: false,
        silent: true, animation: false, emphasis: { disabled: true }, clip: true,
      };
      if (sig.w) {
        series.push({
          ...common, type: 'line', name, smooth: true, data: toPairs(sig.w, DT_W),
          lineStyle: { color: p.color, width: 2.5 }, itemStyle: { color: p.color }, z: 3,
        });
      } else {
        if (sig.c) {
          [1, -1].forEach((sg) => {
            series.push({
              ...common, type: 'line', name: `${name}-core${sg}`, data: toPairs(sig.c!, DT_C, sg),
              lineStyle: { width: 0, opacity: 0 }, areaStyle: { color: p.color, opacity: 1 },
              itemStyle: { color: p.color }, z: 2,
            });
          });
        }
        series.push({
          ...common, type: 'line', name, data: toPairs(sig.s!, sig.dt!),
          lineStyle: { color: p.color, width: sig.dt === DT_10 ? 2.6 : 2.4 }, itemStyle: { color: p.color },
          areaStyle: { color: p.color, opacity: 1 }, z: 3,
        });
      }
      const label = RPM[si];
      legend.push({
        show: true, data: [name], right: vw - X(left + PLOT_W), top: Y(top) + 1, orient: 'horizontal',
        icon: 'rect', itemWidth: X(80), itemHeight: 3, itemGap: 0, padding: [Y(5), X(4), Y(5), X(6)],
        borderColor: '#444', borderWidth: 2, borderRadius: 0, backgroundColor: '#fff',
        selectedMode: false, formatter: () => label,
        textStyle: { fontSize: FX(38), fontFamily: SERIF, color: '#000', padding: [0, 0, 0, X(14)] },
        z: 10,
      });
    });
    graphic.push({
      type: 'text', x: X(left - 104), y: Y(ROW_TOP[r] + SUB_H * 1.5 - 22), rotation: Math.PI / 2, silent: true,
      style: { text: Y_NAME, fontSize: FY(40), fontFamily: SERIF, fill: '#000', align: 'center', verticalAlign: 'middle' },
    });
  });

  COL_BOX.forEach(([x, w], i) => {
    graphic.push({
      type: 'rect', silent: true, z: 100,
      shape: { x: X(x), y: Y(COL_BOX_Y[0]), width: X(w), height: Y(COL_BOX_Y[1] - COL_BOX_Y[0]) },
      style: { fill: 'none', stroke: COL_COLORS[i], lineWidth: 7 },
    });
    graphic.push({
      type: 'text', x: X(TITLE_X[i]), y: Y(113), silent: true,
      style: { text: COL_TITLES[i], fontSize: FX(102), fontWeight: 'bold', fontFamily: SERIF, fill: COL_COLORS[i], align: 'center', verticalAlign: 'middle' },
    });
  });
  ROW_BOX.forEach(([y0, y1], i) => {
    graphic.push({
      type: 'rect', silent: true, z: 101,
      shape: { x: X(ROW_BOX_X[0]), y: Y(y0), width: X(ROW_BOX_X[1] - ROW_BOX_X[0]), height: Y(y1 - y0) },
      style: { fill: 'none', stroke: ROW_COLORS[i], lineWidth: 7 },
    });
    graphic.push({
      type: 'text', x: X(147), y: Y(ROW_LABEL_Y[i]), rotation: -Math.PI / 2, silent: true,
      style: { text: ROW_TITLES[i], fontSize: FY(104), fontWeight: 'bold', fontFamily: SERIF, fill: ROW_COLORS[i], align: 'center', verticalAlign: 'middle' },
    });
  });

  return {
    animation: false,
    backgroundColor: '#ffffff',
    textStyle: { fontFamily: SERIF },
    grid, xAxis, yAxis, series, legend, graphic,
  };
}

export default function App() {
  const ref = useRef<HTMLDivElement>(null);
  useEffect(() => {
    document.body.style.margin = '0';
    document.documentElement.style.overflow = 'hidden';
    document.body.style.overflow = 'hidden';
    const el = ref.current;
    if (!el) return;
    const vw = el.clientWidth || window.innerWidth || REF_W;
    const vh = el.clientHeight || window.innerHeight || REF_H;
    const chart = echarts.init(el, null, { renderer: 'svg', width: vw, height: vh });
    chart.setOption(buildOption(vw, vh) as any);
    return () => chart.dispose();
  }, []);
  return (
    <div
      ref={ref}
      style={{ position: 'fixed', left: 0, top: 0, width: '100vw', height: '100vh', background: '#fff' }}
    />
  );
}
